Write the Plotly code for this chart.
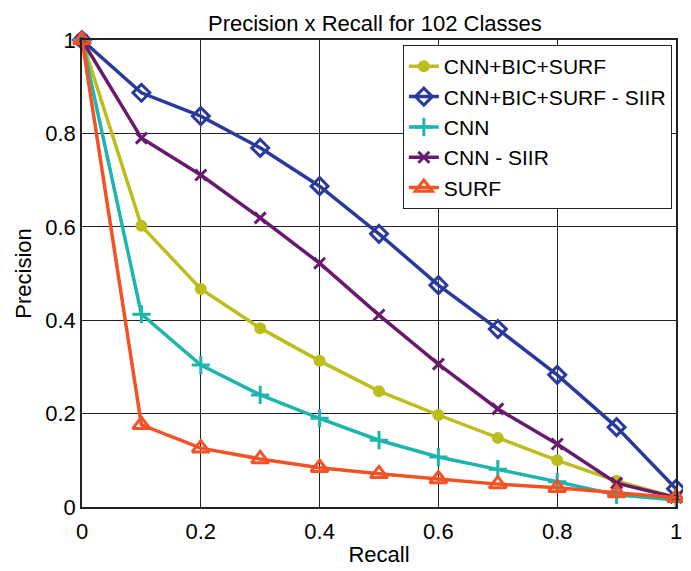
import plotly.graph_objects as go

recall = [0.0, 0.1, 0.2, 0.3, 0.4, 0.5, 0.6, 0.7, 0.8, 0.9, 1.0]
cnn_bic_surf = [1.0, 0.602, 0.467, 0.383, 0.313, 0.248, 0.197, 0.148, 0.100, 0.056, 0.020]
cnn_bic_surf_siir = [1.0, 0.887, 0.837, 0.769, 0.687, 0.585, 0.475, 0.381, 0.283, 0.171, 0.039]
cnn = [1.0, 0.413, 0.304, 0.240, 0.190, 0.143, 0.107, 0.081, 0.054, 0.026, 0.015]
cnn_siir = [1.0, 0.790, 0.711, 0.619, 0.522, 0.411, 0.306, 0.210, 0.135, 0.051, 0.020]
surf = [1.0, 0.176, 0.126, 0.103, 0.084, 0.071, 0.060, 0.049, 0.041, 0.030, 0.020]

tick_vals = [0, 0.2, 0.4, 0.6, 0.8, 1]
tick_text = ["0", "0.2", "0.4", "0.6", "0.8", "1"]

series = [
    ("CNN+BIC+SURF", cnn_bic_surf, "#BDBD1E", "circle", 9),
    ("CNN+BIC+SURF - SIIR", cnn_bic_surf_siir, "#2A3A9C", "diamond-open", 13),
    ("CNN", cnn, "#1EB5AE", "cross-thin-open", 13),
    ("CNN - SIIR", cnn_siir, "#6A1A6E", "x-thin-open", 11),
    ("SURF", surf, "#F25224", "triangle-up-open", 15),
]

fig = go.Figure()
for name, vals, color, sym, size in series:
    fig.add_trace(go.Scatter(
        x=recall, y=vals, name=name, mode="lines+markers",
        line=dict(color=color, width=3.5),
        marker=dict(symbol=sym, size=size, color=color,
                    line=dict(color=color, width=3)),
        cliponaxis=False,
    ))

axis_common = dict(
    range=[0, 1], tickmode="array", tickvals=tick_vals, ticktext=tick_text,
    showgrid=True, gridcolor="#222222", gridwidth=1,
    showline=True, linecolor="#222222", linewidth=1.5, mirror=True,
    ticks="inside", ticklen=5, tickcolor="#222222", zeroline=False,
    tickfont=dict(size=22, color="black"),
    title_font=dict(size=22, color="black"),
    automargin=False,
)

fig.update_layout(
    width=691, height=571,
    margin=dict(l=74, r=23, t=32, b=72),
    paper_bgcolor="white", plot_bgcolor="white",
    font=dict(family="Liberation Sans, Arial, sans-serif", color="black"),
    title=dict(text="Precision x Recall for 102 Classes", x=0.531, xanchor="center",
               y=0.973, yanchor="middle", font=dict(size=22, color="black")),
    xaxis=dict(title=dict(text="Recall", standoff=3), ticklabelstandoff=4, **axis_common),
    yaxis=dict(title=dict(text="Precision", standoff=8), **axis_common),
    legend=dict(x=0.993, y=0.989, xanchor="right", yanchor="top",
                bgcolor="white", bordercolor="#222222", borderwidth=1,
                font=dict(size=21, color="black"), itemwidth=30,
                tracegroupgap=0),
    showlegend=True,
)

fig.write_html("out.html")
